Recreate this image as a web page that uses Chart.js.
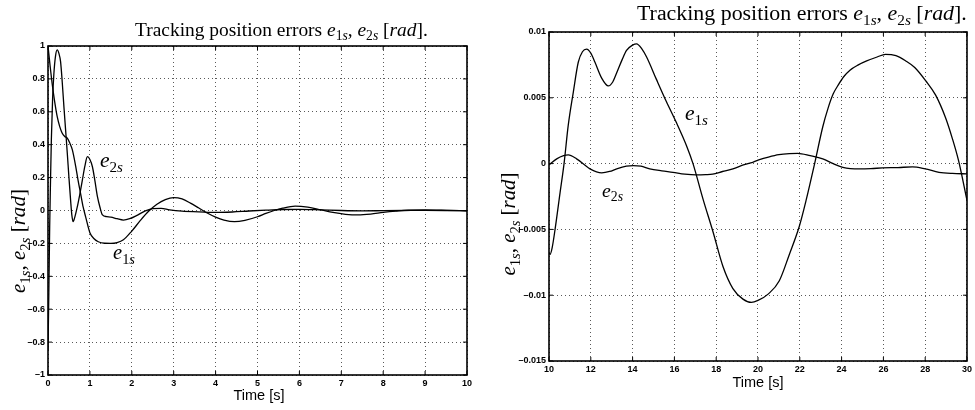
<!DOCTYPE html>
<html>
<head>
<meta charset="utf-8">
<script src="https://cdn.jsdelivr.net/npm/chart.js@4.4.1/dist/chart.umd.min.js"></script>
<style>
  html, body { margin: 0; padding: 0; background: #fff; }
  body { width: 975px; height: 410px; position: relative; overflow: hidden; }
  .panel { position: absolute; top: 0; }
  #p1 { left: 0; }
  #p2 { left: 490px; }
</style>
</head>
<body>
<div class="panel" id="p1"><canvas id="c1" width="490" height="410"></canvas></div>
<div class="panel" id="p2"><canvas id="c2" width="485" height="410"></canvas></div>
<script>
// ---- Left panel: 0 .. 10 s ----
const e1sTimeA = [0, 0.05, 0.10, 0.16, 0.22, 0.28, 0.34, 0.40, 0.46, 0.52, 0.58, 0.66, 0.72, 0.78, 0.84, 0.90,
  1.0, 1.1, 1.2, 1.35, 1.5, 1.65, 1.8, 2.0, 2.2, 2.4, 2.6, 2.8, 3.0, 3.2, 3.4, 3.6, 3.8, 4.0, 4.2, 4.45,
  4.7, 5.0, 5.2, 5.4, 5.6, 5.9, 6.2, 6.5, 6.8, 7.1, 7.4, 7.7, 8.0, 8.3, 8.6, 9.0, 9.5, 10];
const e1sValuesA = [1.0, 0.88, 0.77, 0.66, 0.57, 0.51, 0.47, 0.45, 0.44, 0.41, 0.37, 0.27, 0.18, 0.10, 0.02, -0.04,
  -0.135, -0.172, -0.19, -0.199, -0.2, -0.195, -0.178, -0.125, -0.062, -0.005, 0.038, 0.066, 0.078, 0.07, 0.045, 0.015, -0.015, -0.04, -0.058, -0.068,
  -0.06, -0.038, -0.018, 0.0, 0.014, 0.026, 0.02, 0.005, -0.012, -0.023, -0.027, -0.022, -0.012, -0.004, 0.002, 0.003, 0.001, -0.002];

const e2sTimeA = [0, 0.02, 0.04, 0.06, 0.08, 0.11, 0.14, 0.18, 0.22, 0.26, 0.30, 0.34, 0.38, 0.42, 0.46, 0.50, 0.54, 0.57,
  0.60, 0.64, 0.70, 0.76, 0.82, 0.88, 0.94, 1.0, 1.06, 1.12, 1.18, 1.24, 1.30, 1.4, 1.5, 1.65, 1.8, 1.95, 2.1, 2.3,
  2.5, 2.7, 2.9, 3.2, 3.6, 4.0, 4.4, 4.8, 5.2, 5.6, 6.0, 6.5, 7.0, 7.5, 8.0, 8.5, 9.0, 9.5, 10];
const e2sValuesA = [-0.85, -0.5, -0.1, 0.18, 0.43, 0.68, 0.83, 0.94, 0.976, 0.955, 0.905, 0.78, 0.63, 0.49, 0.35, 0.2, 0.06, -0.03,
  -0.068, -0.04, 0.023, 0.10, 0.185, 0.27, 0.327, 0.31, 0.266, 0.18, 0.084, 0.02, -0.027, -0.037, -0.04, -0.05, -0.058, -0.05, -0.033, -0.005,
  0.012, 0.013, 0.004, -0.004, -0.008, -0.012, -0.009, -0.003, 0.002, 0.006, 0.007, 0.004, 0.0, -0.002, -0.001, 0.0, 0.001, 0.0, -0.002];

const xTicksA = [0, 1, 2, 3, 4, 5, 6, 7, 8, 9, 10];
const xLabelsA = ['0', '1', '2', '3', '4', '5', '6', '7', '8', '9', '10'];
const yTicksA = [-1, -0.8, -0.6, -0.4, -0.2, 0, 0.2, 0.4, 0.6, 0.8, 1];
const yLabelsA = ['\u20131', '\u20130.8', '\u20130.6', '\u20130.4', '\u20130.2', '0', '0.2', '0.4', '0.6', '0.8', '1'];

// ---- Right panel: 10 .. 30 s ----
const e1sTimeB = [10.0, 10.05, 10.15, 10.29, 10.53, 10.72, 10.92, 11.16, 11.40, 11.6, 11.80, 12.0, 12.2, 12.52, 12.84,
  13.05, 13.24, 13.5, 13.71, 14.0, 14.19, 14.45, 14.67, 15.14, 15.62, 16.1, 16.57, 16.89, 17.37, 17.85, 18.32, 18.8,
  19.28, 19.68, 20.0, 20.5, 21.02, 21.5, 21.97, 22.3, 22.71, 23.1, 23.35, 23.6, 23.85, 24.1, 24.4, 24.8, 25.2, 25.7,
  26.1, 26.6, 27.07, 27.5, 28.02, 28.5, 28.97, 29.3, 29.6, 30];
const e1sValuesB = [-0.0068, -0.0069, -0.0064, -0.005, -0.0022, 0.0, 0.0029, 0.0054, 0.0077, 0.0085, 0.0087, 0.0084, 0.0077, 0.0065, 0.0059,
  0.0062, 0.0069, 0.0079, 0.0086, 0.009, 0.0091, 0.0087, 0.0081, 0.0064, 0.0047, 0.0031, 0.0014, 0.0, -0.0027, -0.0052, -0.0078, -0.0095,
  -0.0103, -0.01055, -0.0104, -0.0099, -0.0089, -0.0069, -0.0048, -0.0028, 0.0, 0.0028, 0.0042, 0.0053, 0.006, 0.0066, 0.0071, 0.0075, 0.0078, 0.0081,
  0.0083, 0.0082, 0.0078, 0.0073, 0.0063, 0.0052, 0.0035, 0.0019, 0.0002, -0.0028];

const e2sTimeB = [10, 10.37, 10.7, 10.92, 11.32, 11.96, 12.52, 12.9, 13.24, 13.7, 14.03, 14.4, 14.82, 15.4, 15.93, 16.5,
  17.04, 17.5, 17.83, 18.3, 18.8, 19.3, 19.75, 20.07, 20.5, 21.0, 21.5, 21.9, 22.5, 23.1, 23.6, 24.06, 24.85, 25.4,
  25.96, 26.7, 27.39, 28.0, 28.66, 29.3, 30];
const e2sValuesB = [-0.0001, 0.00036, 0.0006, 0.00066, 0.00036, -0.0004, -0.0007, -0.0006, -0.0004, -0.0002, -0.00015, -0.0002, -0.0004, -0.00055, -0.00066, -0.0008,
  -0.00086, -0.00084, -0.0008, -0.0006, -0.0004, -0.0001, 0.0001, 0.0003, 0.0005, 0.00068, 0.00076, 0.00078, 0.0006, 0.00036, 0.0, -0.00028, -0.0004, -0.00038,
  -0.00033, -0.0003, -0.00025, -0.0004, -0.00066, -0.00075, -0.00078];

const xTicksB = [10, 12, 14, 16, 18, 20, 22, 24, 26, 28, 30];
const xLabelsB = ['10', '12', '14', '16', '18', '20', '22', '24', '26', '28', '30'];
const yTicksB = [-0.015, -0.01, -0.005, 0, 0.005, 0.01];
const yLabelsB = ['\u20130.015', '\u20130.01', '\u20130.005', '0', '0.005', '0.01'];

// ---- Texts (math runs: rm = roman, it = italic, sub / subit = subscript) ----
const titleRuns = [['Tracking position errors ', 'rm'], ['e', 'it'], ['1', 'sub'], ['s', 'subit'], [', ', 'rm'],
  ['e', 'it'], ['2', 'sub'], ['s', 'subit'], [' [', 'rm'], ['rad', 'it'], ['].', 'rm']];
const yLabelRuns = [['e', 'it'], ['1', 'sub'], ['s', 'subit'], [', ', 'rm'], ['e', 'it'], ['2', 'sub'], ['s', 'subit'],
  [' [', 'rm'], ['rad', 'it'], [']', 'rm']];
const e1sRuns = [['e', 'it'], ['1', 'sub'], ['s', 'subit']];
const e2sRuns = [['e', 'it'], ['2', 'sub'], ['s', 'subit']];
const xAxisTitle = 'Time [s]';

const SERIF = '"Liberation Serif", "DejaVu Serif", serif';
const SANS = '"Liberation Sans", Arial, sans-serif';

function runFont(kind, size) {
  const sub = kind === 'sub' || kind === 'subit';
  const it = kind === 'it' || kind === 'subit';
  return (it ? 'italic ' : '') + (sub ? size * 0.7 : size).toFixed(2) + 'px ' + SERIF;
}
function mathWidth(ctx, runs, size) {
  let w = 0;
  for (const [t, k] of runs) { ctx.font = runFont(k, size); w += ctx.measureText(t).width; }
  return w;
}
// Draws a run of math-styled text centred on cx, sized to span `width` px.
function drawMath(ctx, runs, cx, baseline, width) {
  const size = 20 * width / mathWidth(ctx, runs, 20);
  let x = cx - width / 2;
  ctx.fillStyle = '#000';
  ctx.textAlign = 'left';
  ctx.textBaseline = 'alphabetic';
  for (const [t, k] of runs) {
    ctx.font = runFont(k, size);
    const dy = (k === 'sub' || k === 'subit') ? size * 0.22 : 0;
    ctx.fillText(t, x, baseline + dy);
    x += ctx.measureText(t).width;
  }
}

function points(ts, vs) { return ts.map((t, i) => ({ x: t, y: vs[i] })); }

function lineSet(data) {
  return {
    data, borderColor: '#000', borderWidth: 1.3, pointRadius: 0,
    cubicInterpolationMode: 'monotone', fill: false
  };
}

function axis(min, max, ticks, labels, size, isX) {
  return {
    type: 'linear', min, max,
    afterBuildTicks: s => { s.ticks = ticks.map(v => ({ value: v })); },
    afterFit: s => { if (isX) s.height = size; else s.width = size; },
    ticks: {
      autoSkip: false, maxRotation: 0, color: '#000', padding: isX ? 3 : 3,
      font: { family: SANS, size: 9, weight: 'bold' },
      callback: (v, i) => labels[i]
    },
    grid: { color: 'rgba(0,0,0,0.65)', lineWidth: 1, drawTicks: false },
    border: { display: false, dash: [1, 3] }
  };
}

// Frame, inward tick marks and all annotation text
function decor(opts) {
  return {
    id: 'decor',
    afterDatasetsDraw(chart) {
      const { ctx, chartArea: a, scales: { x, y } } = chart;
      ctx.save();
      ctx.strokeStyle = '#000';
      ctx.lineWidth = 1;
      ctx.beginPath();
      for (const t of x.ticks) {
        const px = x.getPixelForValue(t.value);
        ctx.moveTo(px, a.bottom); ctx.lineTo(px, a.bottom - 4);
        ctx.moveTo(px, a.top); ctx.lineTo(px, a.top + 4);
      }
      for (const t of y.ticks) {
        const py = y.getPixelForValue(t.value);
        ctx.moveTo(a.left, py); ctx.lineTo(a.left + 4, py);
        ctx.moveTo(a.right, py); ctx.lineTo(a.right - 4, py);
      }
      ctx.stroke();
      ctx.lineWidth = 1.6;
      ctx.strokeRect(a.left, a.top, a.right - a.left, a.bottom - a.top);

      drawMath(ctx, titleRuns, opts.title[0], opts.title[1], opts.title[2]);

      ctx.save();
      ctx.translate(opts.ylab[0], opts.ylab[1]);
      ctx.rotate(-Math.PI / 2);
      drawMath(ctx, yLabelRuns, 0, 0, opts.ylab[2]);
      ctx.restore();

      ctx.font = '14.5px ' + SANS;
      ctx.fillStyle = '#000';
      ctx.textAlign = 'center';
      ctx.textBaseline = 'alphabetic';
      ctx.fillText(xAxisTitle, opts.xlab[0], opts.xlab[1]);

      drawMath(ctx, e1sRuns, opts.e1[0], opts.e1[1], opts.e1[2]);
      drawMath(ctx, e2sRuns, opts.e2[0], opts.e2[1], opts.e2[2]);
      ctx.restore();
    }
  };
}

function makeChart(id, cfg) {
  return new Chart(document.getElementById(id), {
    type: 'line',
    data: { datasets: [lineSet(points(cfg.t1, cfg.v1)), lineSet(points(cfg.t2, cfg.v2))] },
    options: {
      responsive: false, animation: false, events: [],
      layout: { padding: cfg.pad },
      plugins: { legend: { display: false }, title: { display: false }, tooltip: { enabled: false } },
      scales: {
        x: axis(cfg.xr[0], cfg.xr[1], cfg.xt, cfg.xl, cfg.xh, true),
        y: axis(cfg.yr[0], cfg.yr[1], cfg.yt, cfg.yl, cfg.yw, false)
      }
    },
    plugins: [decor(cfg.text)]
  });
}

makeChart('c1', {
  t1: e1sTimeA, v1: e1sValuesA, t2: e2sTimeA, v2: e2sValuesA,
  xr: [0, 10], xt: xTicksA, xl: xLabelsA, yr: [-1, 1], yt: yTicksA, yl: yLabelsA,
  pad: { left: 0, top: 46, right: 23, bottom: 0 }, xh: 35, yw: 48,
  text: { title: [281.5, 36, 293], ylab: [25, 241, 104], xlab: [259, 400],
          e1: [124, 259, 22], e2: [111.5, 167, 23] }
});

makeChart('c2', {
  t1: e1sTimeB, v1: e1sValuesB, t2: e2sTimeB, v2: e2sValuesB,
  xr: [10, 30], xt: xTicksB, xl: xLabelsB, yr: [-0.015, 0.01], yt: yTicksB, yl: yLabelsB,
  pad: { left: 0, top: 32, right: 6, bottom: 0 }, xh: 49, yw: 59,
  text: { title: [312, 20, 330], ylab: [25, 224, 103], xlab: [268, 387],
          e1: [206.5, 120, 23], e2: [122.5, 197, 21] }
});
</script>
</body>
</html>
